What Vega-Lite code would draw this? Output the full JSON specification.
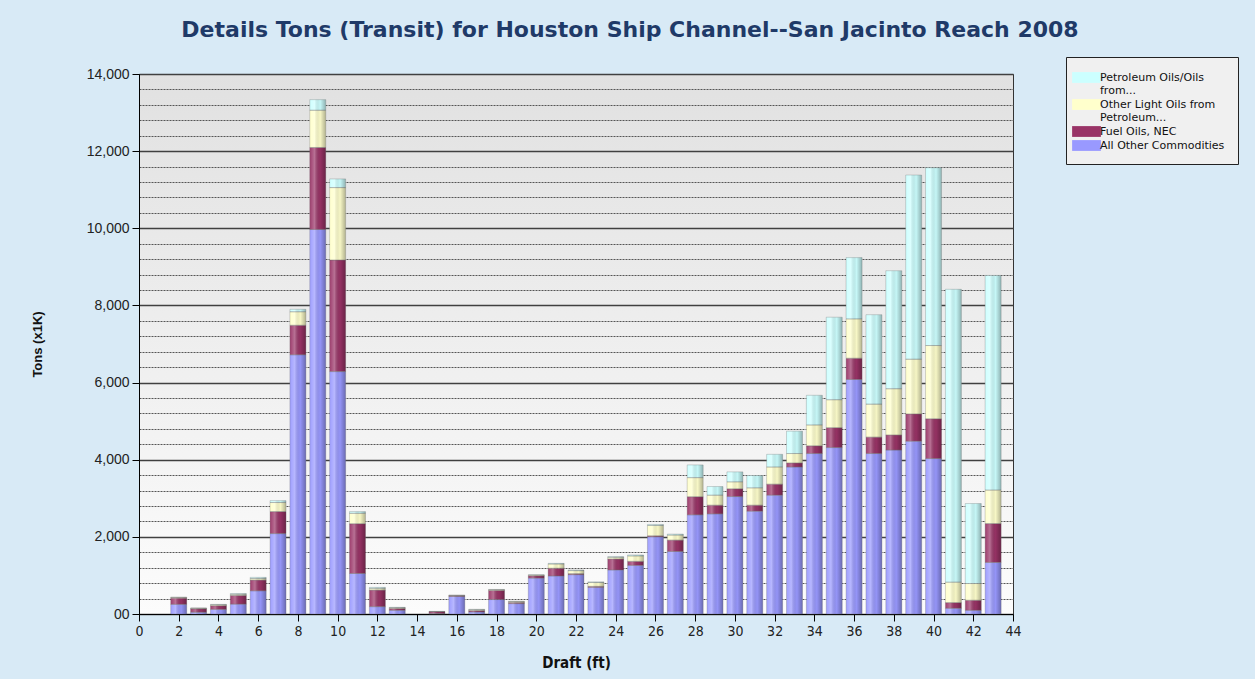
{
  "$schema": "https://vega.github.io/schema/vega-lite/v6.json",
  "width": 874,
  "height": 540,
  "autosize": "none",
  "padding": {"left": 139, "top": 74, "right": 242, "bottom": 65},
  "background": "#d8eaf6",
  "title": {
    "text": "Details Tons (Transit) for Houston Ship Channel--San Jacinto Reach 2008",
    "frame": "group",
    "anchor": "middle",
    "dx": 54,
    "dy": 24,
    "offset": 17,
    "baseline": "bottom",
    "font": "DejaVu Sans",
    "fontSize": 22,
    "fontWeight": "bold",
    "color": "#1f3a68"
  },
  "config": {
    "view": {
      "stroke": "#333333",
      "strokeWidth": 1,
      "fill": {
        "gradient": "linear",
        "x1": 0, "y1": 0, "x2": 0, "y2": 1,
        "stops": [
          {"offset": 0, "color": "#e1e1e1"},
          {"offset": 1, "color": "#fcfcfc"}
        ]
      }
    }
  },
  "data": {
    "values": [
      {"d": 2, "c": "All Other Commodities", "t": 250}, {"d": 2, "c": "Fuel Oils, NEC", "t": 160}, {"d": 2, "c": "Other Light Oils from Petroleum...", "t": 20}, {"d": 2, "c": "Petroleum Oils/Oils from...", "t": 5},
      {"d": 3, "c": "All Other Commodities", "t": 45}, {"d": 3, "c": "Fuel Oils, NEC", "t": 90}, {"d": 3, "c": "Other Light Oils from Petroleum...", "t": 15}, {"d": 3, "c": "Petroleum Oils/Oils from...", "t": 5},
      {"d": 4, "c": "All Other Commodities", "t": 120}, {"d": 4, "c": "Fuel Oils, NEC", "t": 95}, {"d": 4, "c": "Other Light Oils from Petroleum...", "t": 25}, {"d": 4, "c": "Petroleum Oils/Oils from...", "t": 10},
      {"d": 5, "c": "All Other Commodities", "t": 255}, {"d": 5, "c": "Fuel Oils, NEC", "t": 225}, {"d": 5, "c": "Other Light Oils from Petroleum...", "t": 30}, {"d": 5, "c": "Petroleum Oils/Oils from...", "t": 20},
      {"d": 6, "c": "All Other Commodities", "t": 600}, {"d": 6, "c": "Fuel Oils, NEC", "t": 280}, {"d": 6, "c": "Other Light Oils from Petroleum...", "t": 40}, {"d": 6, "c": "Petroleum Oils/Oils from...", "t": 30},
      {"d": 7, "c": "All Other Commodities", "t": 2085}, {"d": 7, "c": "Fuel Oils, NEC", "t": 570}, {"d": 7, "c": "Other Light Oils from Petroleum...", "t": 235}, {"d": 7, "c": "Petroleum Oils/Oils from...", "t": 50},
      {"d": 8, "c": "All Other Commodities", "t": 6720}, {"d": 8, "c": "Fuel Oils, NEC", "t": 765}, {"d": 8, "c": "Other Light Oils from Petroleum...", "t": 350}, {"d": 8, "c": "Petroleum Oils/Oils from...", "t": 65},
      {"d": 9, "c": "All Other Commodities", "t": 9970}, {"d": 9, "c": "Fuel Oils, NEC", "t": 2125}, {"d": 9, "c": "Other Light Oils from Petroleum...", "t": 965}, {"d": 9, "c": "Petroleum Oils/Oils from...", "t": 275},
      {"d": 10, "c": "All Other Commodities", "t": 6285}, {"d": 10, "c": "Fuel Oils, NEC", "t": 2890}, {"d": 10, "c": "Other Light Oils from Petroleum...", "t": 1880}, {"d": 10, "c": "Petroleum Oils/Oils from...", "t": 225},
      {"d": 11, "c": "All Other Commodities", "t": 1050}, {"d": 11, "c": "Fuel Oils, NEC", "t": 1290}, {"d": 11, "c": "Other Light Oils from Petroleum...", "t": 270}, {"d": 11, "c": "Petroleum Oils/Oils from...", "t": 45},
      {"d": 12, "c": "All Other Commodities", "t": 190}, {"d": 12, "c": "Fuel Oils, NEC", "t": 430}, {"d": 12, "c": "Other Light Oils from Petroleum...", "t": 45}, {"d": 12, "c": "Petroleum Oils/Oils from...", "t": 25},
      {"d": 13, "c": "All Other Commodities", "t": 95}, {"d": 13, "c": "Fuel Oils, NEC", "t": 50}, {"d": 13, "c": "Other Light Oils from Petroleum...", "t": 18}, {"d": 13, "c": "Petroleum Oils/Oils from...", "t": 10},
      {"d": 15, "c": "All Other Commodities", "t": 10}, {"d": 15, "c": "Fuel Oils, NEC", "t": 50}, {"d": 15, "c": "Other Light Oils from Petroleum...", "t": 5}, {"d": 15, "c": "Petroleum Oils/Oils from...", "t": 2},
      {"d": 16, "c": "All Other Commodities", "t": 455}, {"d": 16, "c": "Fuel Oils, NEC", "t": 20}, {"d": 16, "c": "Other Light Oils from Petroleum...", "t": 8}, {"d": 16, "c": "Petroleum Oils/Oils from...", "t": 4},
      {"d": 17, "c": "All Other Commodities", "t": 52}, {"d": 17, "c": "Fuel Oils, NEC", "t": 35}, {"d": 17, "c": "Other Light Oils from Petroleum...", "t": 25}, {"d": 17, "c": "Petroleum Oils/Oils from...", "t": 10},
      {"d": 18, "c": "All Other Commodities", "t": 375}, {"d": 18, "c": "Fuel Oils, NEC", "t": 235}, {"d": 18, "c": "Other Light Oils from Petroleum...", "t": 20}, {"d": 18, "c": "Petroleum Oils/Oils from...", "t": 6},
      {"d": 19, "c": "All Other Commodities", "t": 270}, {"d": 19, "c": "Fuel Oils, NEC", "t": 30}, {"d": 19, "c": "Other Light Oils from Petroleum...", "t": 25}, {"d": 19, "c": "Petroleum Oils/Oils from...", "t": 5},
      {"d": 20, "c": "All Other Commodities", "t": 930}, {"d": 20, "c": "Fuel Oils, NEC", "t": 60}, {"d": 20, "c": "Other Light Oils from Petroleum...", "t": 20}, {"d": 20, "c": "Petroleum Oils/Oils from...", "t": 6},
      {"d": 21, "c": "All Other Commodities", "t": 985}, {"d": 21, "c": "Fuel Oils, NEC", "t": 200}, {"d": 21, "c": "Other Light Oils from Petroleum...", "t": 110}, {"d": 21, "c": "Petroleum Oils/Oils from...", "t": 18},
      {"d": 22, "c": "All Other Commodities", "t": 1020}, {"d": 22, "c": "Fuel Oils, NEC", "t": 26}, {"d": 22, "c": "Other Light Oils from Petroleum...", "t": 78}, {"d": 22, "c": "Petroleum Oils/Oils from...", "t": 18},
      {"d": 23, "c": "All Other Commodities", "t": 690}, {"d": 23, "c": "Fuel Oils, NEC", "t": 26}, {"d": 23, "c": "Other Light Oils from Petroleum...", "t": 100}, {"d": 23, "c": "Petroleum Oils/Oils from...", "t": 18},
      {"d": 24, "c": "All Other Commodities", "t": 1140}, {"d": 24, "c": "Fuel Oils, NEC", "t": 285}, {"d": 24, "c": "Other Light Oils from Petroleum...", "t": 45}, {"d": 24, "c": "Petroleum Oils/Oils from...", "t": 17},
      {"d": 25, "c": "All Other Commodities", "t": 1260}, {"d": 25, "c": "Fuel Oils, NEC", "t": 105}, {"d": 25, "c": "Other Light Oils from Petroleum...", "t": 140}, {"d": 25, "c": "Petroleum Oils/Oils from...", "t": 26},
      {"d": 26, "c": "All Other Commodities", "t": 2000}, {"d": 26, "c": "Fuel Oils, NEC", "t": 26}, {"d": 26, "c": "Other Light Oils from Petroleum...", "t": 270}, {"d": 26, "c": "Petroleum Oils/Oils from...", "t": 26},
      {"d": 27, "c": "All Other Commodities", "t": 1620}, {"d": 27, "c": "Fuel Oils, NEC", "t": 295}, {"d": 27, "c": "Other Light Oils from Petroleum...", "t": 130}, {"d": 27, "c": "Petroleum Oils/Oils from...", "t": 26},
      {"d": 28, "c": "All Other Commodities", "t": 2570}, {"d": 28, "c": "Fuel Oils, NEC", "t": 470}, {"d": 28, "c": "Other Light Oils from Petroleum...", "t": 495}, {"d": 28, "c": "Petroleum Oils/Oils from...", "t": 330},
      {"d": 29, "c": "All Other Commodities", "t": 2595}, {"d": 29, "c": "Fuel Oils, NEC", "t": 225}, {"d": 29, "c": "Other Light Oils from Petroleum...", "t": 260}, {"d": 29, "c": "Petroleum Oils/Oils from...", "t": 225},
      {"d": 30, "c": "All Other Commodities", "t": 3045}, {"d": 30, "c": "Fuel Oils, NEC", "t": 200}, {"d": 30, "c": "Other Light Oils from Petroleum...", "t": 180}, {"d": 30, "c": "Petroleum Oils/Oils from...", "t": 260},
      {"d": 31, "c": "All Other Commodities", "t": 2665}, {"d": 31, "c": "Fuel Oils, NEC", "t": 155}, {"d": 31, "c": "Other Light Oils from Petroleum...", "t": 450}, {"d": 31, "c": "Petroleum Oils/Oils from...", "t": 320},
      {"d": 32, "c": "All Other Commodities", "t": 3080}, {"d": 32, "c": "Fuel Oils, NEC", "t": 285}, {"d": 32, "c": "Other Light Oils from Petroleum...", "t": 445}, {"d": 32, "c": "Petroleum Oils/Oils from...", "t": 330},
      {"d": 33, "c": "All Other Commodities", "t": 3810}, {"d": 33, "c": "Fuel Oils, NEC", "t": 105}, {"d": 33, "c": "Other Light Oils from Petroleum...", "t": 245}, {"d": 33, "c": "Petroleum Oils/Oils from...", "t": 580},
      {"d": 34, "c": "All Other Commodities", "t": 4160}, {"d": 34, "c": "Fuel Oils, NEC", "t": 200}, {"d": 34, "c": "Other Light Oils from Petroleum...", "t": 540}, {"d": 34, "c": "Petroleum Oils/Oils from...", "t": 770},
      {"d": 35, "c": "All Other Commodities", "t": 4315}, {"d": 35, "c": "Fuel Oils, NEC", "t": 515}, {"d": 35, "c": "Other Light Oils from Petroleum...", "t": 725}, {"d": 35, "c": "Petroleum Oils/Oils from...", "t": 2140},
      {"d": 36, "c": "All Other Commodities", "t": 6080}, {"d": 36, "c": "Fuel Oils, NEC", "t": 550}, {"d": 36, "c": "Other Light Oils from Petroleum...", "t": 1020}, {"d": 36, "c": "Petroleum Oils/Oils from...", "t": 1590},
      {"d": 37, "c": "All Other Commodities", "t": 4160}, {"d": 37, "c": "Fuel Oils, NEC", "t": 425}, {"d": 37, "c": "Other Light Oils from Petroleum...", "t": 855}, {"d": 37, "c": "Petroleum Oils/Oils from...", "t": 2320},
      {"d": 38, "c": "All Other Commodities", "t": 4250}, {"d": 38, "c": "Fuel Oils, NEC", "t": 390}, {"d": 38, "c": "Other Light Oils from Petroleum...", "t": 1200}, {"d": 38, "c": "Petroleum Oils/Oils from...", "t": 3060},
      {"d": 39, "c": "All Other Commodities", "t": 4480}, {"d": 39, "c": "Fuel Oils, NEC", "t": 705}, {"d": 39, "c": "Other Light Oils from Petroleum...", "t": 1420}, {"d": 39, "c": "Petroleum Oils/Oils from...", "t": 4775},
      {"d": 40, "c": "All Other Commodities", "t": 4030}, {"d": 40, "c": "Fuel Oils, NEC", "t": 1030}, {"d": 40, "c": "Other Light Oils from Petroleum...", "t": 1900}, {"d": 40, "c": "Petroleum Oils/Oils from...", "t": 4610},
      {"d": 41, "c": "All Other Commodities", "t": 148}, {"d": 41, "c": "Fuel Oils, NEC", "t": 147}, {"d": 41, "c": "Other Light Oils from Petroleum...", "t": 530}, {"d": 41, "c": "Petroleum Oils/Oils from...", "t": 7593},
      {"d": 42, "c": "All Other Commodities", "t": 95}, {"d": 42, "c": "Fuel Oils, NEC", "t": 261}, {"d": 42, "c": "Other Light Oils from Petroleum...", "t": 434}, {"d": 42, "c": "Petroleum Oils/Oils from...", "t": 2074},
      {"d": 43, "c": "All Other Commodities", "t": 1337}, {"d": 43, "c": "Fuel Oils, NEC", "t": 1007}, {"d": 43, "c": "Other Light Oils from Petroleum...", "t": 868}, {"d": 43, "c": "Petroleum Oils/Oils from...", "t": 5566}
    ]
  },
  "encoding": {
    "x": {
      "field": "d",
      "type": "quantitative",
      "scale": {"domain": [0, 44], "nice": false, "zero": true, "padding": 0},
      "axis": {
        "title": "Draft (ft)",
        "values": [0, 2, 4, 6, 8, 10, 12, 14, 16, 18, 20, 22, 24, 26, 28, 30, 32, 34, 36, 38, 40, 42, 44],
        "grid": false,
        "labelFlush": false,
        "labelOverlap": false,
        "domainColor": "#000000",
        "tickColor": "#000000",
        "tickSize": 7,
        "labelPadding": 3,
        "labelFont": "DejaVu Sans Condensed, Liberation Sans Narrow, DejaVu Sans",
        "labelFontSize": 14,
        "labelColor": "#222222",
        "titleFont": "DejaVu Sans Condensed, Liberation Sans Narrow, DejaVu Sans",
        "titleFontSize": 15,
        "titleFontWeight": "bold",
        "titleColor": "#111111",
        "titlePadding": 17
      }
    },
    "y": {
      "field": "t",
      "type": "quantitative",
      "aggregate": "sum",
      "stack": "zero",
      "scale": {"domain": [0, 14000], "nice": false},
      "axis": {
        "title": "Tons (x1K)",
        "values": [0, 400, 800, 1200, 1600, 2000, 2400, 2800, 3200, 3600, 4000, 4400, 4800, 5200, 5600, 6000, 6400, 6800, 7200, 7600, 8000, 8400, 8800, 9200, 9600, 10000, 10400, 10800, 11200, 11600, 12000, 12400, 12800, 13200, 13600, 14000],
        "labelExpr": "datum.value % 2000 === 0 ? (datum.value === 0 ? '00' : format(datum.value, ',')) : ''",
        "labelFlush": false,
        "labelOverlap": false,
        "grid": true,
        "gridColor": {"condition": {"test": "datum.value % 2000 === 0", "value": "#404040"}, "value": "#555555"},
        "gridDash": {"condition": {"test": "datum.value % 2000 === 0", "value": []}, "value": [2, 1]},
        "gridWidth": {"condition": {"test": "datum.value % 2000 === 0", "value": 1.3}, "value": 1},
        "tickOpacity": {"condition": {"test": "datum.value % 2000 === 0", "value": 1}, "value": 0},
        "domainColor": "#000000",
        "tickColor": "#000000",
        "tickSize": 7,
        "labelPadding": 3,
        "labelFont": "Liberation Sans, Arial",
        "labelFontSize": 14,
        "labelColor": "#222222",
        "titleFont": "Liberation Sans, Arial",
        "titleFontSize": 13,
        "titleFontWeight": "bold",
        "titleColor": "#111111",
        "titleX": -102,
        "titleY": 270,
        "titleAngle": -90,
        "titleAlign": "center",
        "titleBaseline": "middle"
      }
    },
    "order": {"field": "c", "sort": "ascending"}
  },
  "layer": [
    {
      "mark": {"type": "bar", "width": 16},
      "encoding": {
        "color": {
          "field": "c",
          "type": "nominal",
          "scale": {
            "domain": ["Petroleum Oils/Oils from...", "Other Light Oils from Petroleum...", "Fuel Oils, NEC", "All Other Commodities"],
            "range": ["#ccffff", "#ffffcc", "#993366", "#9999ff"]
          },
          "legend": {
            "title": null,
            "orient": "none",
            "legendX": 927,
            "legendY": -17,
            "padding": 13,
            "strokeColor": "#222222",
            "fillColor": "#f0f0f0",
            "symbolType": "M-2,-0.75H2V0.75H-2Z",
            "symbolSize": 207,
            "symbolStrokeWidth": 0,
            "symbolOpacity": 1,
            "labelFont": "DejaVu Sans",
            "labelFontSize": 11,
            "labelColor": "#111111",
            "labelOffset": 6,
            "labelLimit": 200,
            "rowPadding": 1,
            "labelExpr": "datum.label === 'Petroleum Oils/Oils from...' ? ['Petroleum Oils/Oils', 'from...'] : datum.label === 'Other Light Oils from Petroleum...' ? ['Other Light Oils from', 'Petroleum...'] : datum.label"
          }
        }
      }
    },
    {
      "mark": {
        "type": "bar",
        "width": 16,
        "stroke": "#707070",
        "strokeWidth": 0.5,
        "strokeOpacity": 0.6,
        "fill": {
          "gradient": "linear",
          "x1": 0, "y1": 0, "x2": 1, "y2": 0,
          "stops": [
            {"offset": 0, "color": "rgba(255,255,255,0.05)"},
            {"offset": 0.3, "color": "rgba(255,255,255,0.3)"},
            {"offset": 0.65, "color": "rgba(0,0,0,0.03)"},
            {"offset": 1, "color": "rgba(0,0,0,0.3)"}
          ]
        }
      },
      "encoding": {
        "detail": {"field": "c", "type": "nominal"}
      }
    }
  ]
}
